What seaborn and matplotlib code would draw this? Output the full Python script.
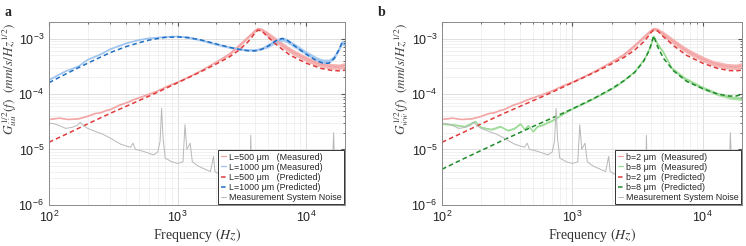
import numpy as np
import pandas as pd
import seaborn as sns
import matplotlib.pyplot as plt

# ---- data (frequency in Hz, amplitude in mm/s/Hz^1/2) ----
f_pred = [100, 150, 200, 300, 500, 700, 1000, 1500, 2000, 2500, 3000, 3500, 3800, 4000, 4200,
          4500, 5000, 6000, 7500, 10000, 13000, 16000, 18000, 20000]
red_pred = [1.35e-5, 2.1e-5, 2.9e-5, 4.5e-5, 7.6e-5, 1.08e-4, 1.6e-4, 2.5e-4, 3.5e-4, 4.6e-4,
            6.2e-4, 8.6e-4, 1.08e-3, 1.28e-3, 1.42e-3, 1.38e-3, 1.08e-3, 7.4e-4, 5.0e-4,
            3.6e-4, 2.9e-4, 2.65e-4, 2.62e-4, 2.7e-4]

f_blue = [100, 130, 170, 200, 250, 300, 400, 500, 600, 700, 800, 1000, 1200, 1500, 2000, 2500,
          3000, 3500, 4000, 4500, 5000, 5500, 6000, 6500, 7000, 7500, 8500, 10000, 12000,
          13500, 15000, 16500, 18000, 19000, 20000]
blue_pred = [1.6e-4, 2.2e-4, 3.0e-4, 3.6e-4, 4.6e-4, 5.6e-4, 7.2e-4, 8.4e-4, 9.4e-4, 1.0e-3,
             1.05e-3, 1.07e-3, 1.04e-3, 9.5e-4, 8.0e-4, 7.0e-4, 6.4e-4, 6.05e-4, 6.0e-4, 6.4e-4,
             7.2e-4, 8.4e-4, 9.6e-4, 1.0e-3, 9.6e-4, 8.5e-4, 6.8e-4, 5.2e-4, 4.0e-4, 3.6e-4,
             3.6e-4, 4.4e-4, 6.4e-4, 8.6e-4, 8.0e-4]
blue_meas = [1.8e-4, 2.5e-4, 3.2e-4, 4.2e-4, 5.2e-4, 6.5e-4, 8.3e-4, 9.5e-4, 1.02e-3, 1.05e-3,
             1.08e-3, 1.1e-3, 1.06e-3, 9.5e-4, 7.9e-4, 7.0e-4, 6.5e-4, 6.2e-4, 6.2e-4, 6.6e-4,
             7.4e-4, 8.4e-4, 9.2e-4, 9.8e-4, 9.3e-4, 8.4e-4, 7.0e-4, 5.5e-4, 4.3e-4, 3.9e-4,
             3.9e-4, 4.6e-4, 6.5e-4, 8.5e-4, 7.8e-4]
blue_spread = [0.01] * 12 + [0.02] * 8 + [0.04] * 15

f_red = [100, 120, 140, 170, 200, 230, 250, 280, 300, 350, 400, 450, 500, 600, 700, 850, 1000,
         1200, 1500, 2000, 2500, 3000, 3500, 4000, 4200, 4500, 5000, 6000, 7000, 8000, 10000,
         12000, 15000, 18000, 20000]
red_meas = [3.5e-5, 3.7e-5, 3.5e-5, 3.6e-5, 4.0e-5, 4.5e-5, 4.6e-5, 5.1e-5, 5.3e-5, 6.3e-5,
            7.0e-5, 7.9e-5, 8.6e-5, 1.0e-4, 1.15e-4, 1.42e-4, 1.65e-4, 2.0e-4, 2.6e-4, 3.8e-4,
            5.2e-4, 7.5e-4, 1.05e-3, 1.4e-3, 1.5e-3, 1.45e-3, 1.2e-3, 8.8e-4, 6.8e-4, 5.6e-4,
            4.3e-4, 3.6e-4, 3.2e-4, 3.1e-4, 3.3e-4]
red_spread = [0.01] * 20 + [0.03] * 6 + [0.05] * 9

green_pred = [4.4e-6, 7.0e-6, 9.6e-6, 1.5e-5, 2.6e-5, 3.7e-5, 5.4e-5, 8.6e-5, 1.25e-4, 1.75e-4,
              2.45e-4, 3.8e-4, 5.5e-4, 7.5e-4, 1.12e-3, 7.2e-4, 4.4e-4, 2.6e-4, 1.7e-4,
              1.25e-4, 1.0e-4, 9.2e-5, 9.2e-5, 9.8e-5]

f_green = [100, 120, 150, 180, 200, 240, 280, 320, 360, 400, 430, 460, 500, 540, 600, 650, 700,
           760, 850, 1000, 1300, 1700, 2200, 3000, 3600, 3950, 4200, 4500, 5000, 5800, 7300,
           9800, 13000, 16500, 20000]
green_meas = [2.9e-5, 2.8e-5, 2.6e-5, 3.2e-5, 2.5e-5, 2.3e-5, 2.6e-5, 2.2e-5, 2.4e-5, 2.9e-5,
              2.3e-5, 2.7e-5, 2.1e-5, 2.6e-5, 2.8e-5, 3.1e-5, 3.3e-5, 3.7e-5, 4.4e-5, 5.4e-5,
              7.2e-5, 1.0e-4, 1.4e-4, 2.5e-4, 4.4e-4, 7.0e-4, 1.1e-3, 8.0e-4, 5.6e-4, 2.9e-4,
              1.9e-4, 1.32e-4, 1.0e-4, 8.6e-5, 8.2e-5]
green_spread = [0.015] * 19 + [0.01] * 6 + [0.03] * 10

f_noise = [100, 110, 120, 135, 150, 165, 175, 185, 200, 230, 260, 300, 330, 360, 400, 430, 450,
           470, 520, 560, 600, 650, 700, 730, 750, 770, 800, 900, 1000, 1100, 1140, 1180, 1250,
           1300, 1450, 1600, 1800, 1900, 1950, 2200, 2600, 3000, 3300, 3650, 3700, 3750, 4500,
           6000, 8000, 10000, 12000, 15000, 16000, 16300, 16600, 18000, 20000]
noise = [3.0e-5, 2.9e-5, 2.7e-5, 2.4e-5, 2.5e-5, 2.7e-5, 3.1e-5, 2.7e-5, 2.4e-5, 2.1e-5,
         1.9e-5, 1.6e-5, 1.4e-5, 1.25e-5, 1.15e-5, 1.1e-5, 1.3e-5, 1.0e-5, 9.5e-6, 9.0e-6,
         8.5e-6, 8.0e-6, 9.0e-6, 1.4e-5, 5.5e-5, 1.6e-5, 7.0e-6, 6.0e-6, 5.6e-6, 6.0e-6,
         2.8e-5, 1.0e-5, 1.3e-5, 6.0e-6, 5.0e-6, 4.5e-6, 4.0e-6, 7.5e-6, 4.0e-6, 3.4e-6,
         3.2e-6, 3.3e-6, 3.2e-6, 3.5e-6, 1.8e-5, 3.5e-6, 3.2e-6, 3.3e-6, 3.5e-6, 4.0e-6,
         4.5e-6, 5.0e-6, 5.5e-6, 2.0e-5, 5.5e-6, 6.5e-6, 7.4e-6]

# ---- styling ----
sns.set_style("white")
plt.rcParams["font.family"] = ["Liberation Sans", "DejaVu Sans"]
plt.rcParams["mathtext.fontset"] = "stix"

C_RED_M, C_RED_P = "#f4a3a3", "#e03a3a"
C_BLUE_M, C_BLUE_P = "#9cc3ef", "#1f6fc4"
C_GREEN_M, C_GREEN_P = "#9adb95", "#1f8a2a"
C_NOISE = "#b8b8b8"


def measured(ax, f, y, spread, color, label):
    f = np.array(f)
    y = np.array(y)
    s = np.array(spread)
    ax.fill_between(f, y * 10 ** (-s), y * 10 ** s, color=color, lw=0, alpha=0.8)
    sns.lineplot(x=f, y=y, ax=ax, color=color, lw=0.9, label=label)


def predicted(ax, f, y, color, label):
    sns.lineplot(x=f, y=y, ax=ax, color=color, lw=1.1, dashes=(3, 2), label=label)


def style_axes(ax, ylabel, label_x):
    ax.set_xscale("log")
    ax.set_yscale("log")
    ax.set_xlim(100, 2e4)
    ax.set_ylim(1e-6, 2e-3)
    ax.grid(True, which="major", color="#d9d9d9", lw=0.6)
    ax.grid(True, which="minor", color="#ececec", lw=0.5)
    ax.tick_params(which="both", direction="in", top=True, right=True, colors="#555555",
                   labelcolor="#222222", labelsize=9)
    ax.tick_params(which="major", length=3)
    ax.tick_params(which="minor", length=1.5)
    for sp in ax.spines.values():
        sp.set_color("#8a8a8a")
        sp.set_linewidth(0.7)
    ax.set_xlabel("Frequency $(Hz)$", family="Liberation Serif", fontsize=10,
                  color="#333333", labelpad=1)
    ax.set_ylabel(ylabel, fontsize=9.5, color="#444444")
    ax.yaxis.set_label_coords(label_x, 0.69)
    leg = ax.legend(loc="lower right", fontsize=6.4, frameon=True, fancybox=False,
                    borderpad=0.25, labelspacing=0.12, handlelength=0.6, handletextpad=0.35,
                    borderaxespad=0.1, framealpha=1)
    leg.get_frame().set_edgecolor("#333333")
    leg.get_frame().set_linewidth(0.7)


fig = plt.figure(figsize=(7.46, 2.46), dpi=100)
ax_a = fig.add_axes([0.0657, 0.167, 0.3968, 0.744])
ax_b = fig.add_axes([0.5925, 0.167, 0.4021, 0.744])

# panel a
measured(ax_a, f_red, red_meas, red_spread, C_RED_M, "L=500 μm   (Measured)")
measured(ax_a, f_blue, blue_meas, blue_spread, C_BLUE_M, "L=1000 μm (Measured)")
predicted(ax_a, f_pred, red_pred, C_RED_P, "L=500 μm   (Predicted)")
predicted(ax_a, f_blue, blue_pred, C_BLUE_P, "L=1000 μm (Predicted)")
sns.lineplot(x=f_noise, y=noise, ax=ax_a, color=C_NOISE, lw=0.7, label="Measurement System Noise")
style_axes(ax_a, r"$G^{1/2}_{\dot{u}\dot{u}}(f)\ \ (mm/s/Hz^{1/2})$", -0.1)

# panel b
measured(ax_b, f_red, red_meas, red_spread, C_RED_M, "b=2 μm  (Measured)")
measured(ax_b, f_green, green_meas, green_spread, C_GREEN_M, "b=8 μm  (Measured)")
predicted(ax_b, f_pred, red_pred, C_RED_P, "b=2 μm  (Predicted)")
predicted(ax_b, f_pred, green_pred, C_GREEN_P, "b=8 μm  (Predicted)")
sns.lineplot(x=f_noise, y=noise, ax=ax_b, color=C_NOISE, lw=0.7, label="Measurement System Noise")
style_axes(ax_b, r"$G^{1/2}_{\dot{w}\dot{w}}(f)\ \ (mm/s/Hz^{1/2})$", -0.102)

fig.text(0.006, 0.935, "a", family="Liberation Serif", weight="bold", fontsize=10)
fig.text(0.507, 0.935, "b", family="Liberation Serif", weight="bold", fontsize=10)

fig.savefig("out.png", dpi=100)
